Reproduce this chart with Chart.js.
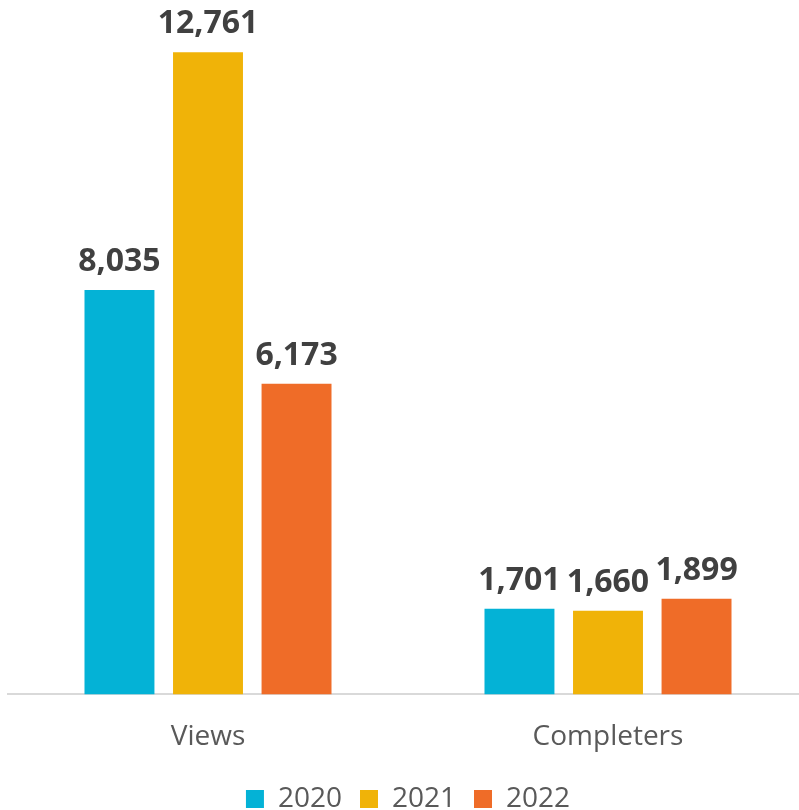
<!DOCTYPE html>
<html>
<head>
<meta charset="utf-8">
<script src="https://cdn.jsdelivr.net/npm/chart.js@4.4.0/dist/chart.umd.min.js"></script>
<style>
  html, body { margin: 0; padding: 0; background: #fff; }
  #frame { width: 799px; height: 810px; overflow: hidden; position: relative; }
  #wrap { width: 816px; height: 823px; position: absolute; left: 0; top: 0; }
</style>
</head>
<body>
<div id="frame"><div id="wrap"><canvas id="completions"></canvas></div></div>
<script>
const categories = ['Views', 'Completers'];
const years = ['2020', '2021', '2022'];
const views = [8035, 12761, 6173];
const completers = [1701, 1660, 1899];
const colors = ['#04B2D6', '#F0B308', '#EF6C28'];

// one dataset per year, each holding [views, completers]
const datasets = years.map((y, i) => ({
  label: y,
  data: [views[i], completers[i]],
  backgroundColor: colors[i],
  borderWidth: 0,
  barPercentage: 0.79,
  categoryPercentage: 0.664
}));

const valueLabels = {
  id: 'valueLabels',
  afterDatasetsDraw(chart) {
    const ctx = chart.ctx;
    ctx.save();
    ctx.font = 'bold 32px "Open Sans"';
    ctx.fillStyle = '#404040';
    ctx.textAlign = 'center';
    ctx.textBaseline = 'alphabetic';
    chart.data.datasets.forEach((ds, i) => {
      chart.getDatasetMeta(i).data.forEach((bar, j) => {
        ctx.fillText(ds.data[j].toLocaleString('en-US'), bar.x, bar.y - 19);
      });
    });
    ctx.restore();
  }
};

new Chart(document.getElementById('completions'), {
  type: 'bar',
  data: { labels: categories, datasets },
  plugins: [valueLabels],
  options: {
    responsive: true,
    maintainAspectRatio: false,
    animation: false,
    layout: { padding: { left: 8, right: 8, top: 0, bottom: 0 } },
    scales: {
      x: {
        grid: { display: false },
        border: { display: true, color: '#D9D9D9', width: 2 },
        ticks: { color: '#595959', font: { family: 'Open Sans', size: 28 }, padding: 18 },
        // pull the legend up closer to the category names
        afterFit(scale) { scale.height -= 5; }
      },
      y: { display: false, min: 0, max: 13800 }
    },
    plugins: {
      legend: {
        position: 'bottom',
        labels: {
          color: '#595959',
          font: { family: 'Open Sans', size: 28 },
          boxWidth: 18,
          boxHeight: 18,
          padding: 18
        }
      },
      tooltip: { enabled: false }
    }
  }
});
</script>
</body>
</html>
